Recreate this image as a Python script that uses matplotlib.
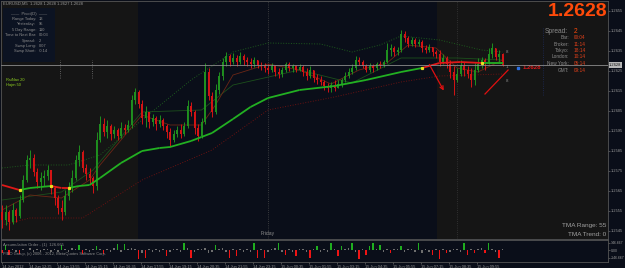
import numpy as np
import matplotlib.pyplot as plt
from matplotlib.patches import Rectangle

plt.rcParams['font.family'] = ['Liberation Sans', 'DejaVu Sans']

W, H = 625, 268

# EURUSD M5 candles (open = previous close)
first_open = 1.25545
close = [1.25505, 1.25545, 1.25495, 1.25555, 1.25525, 1.25605, 1.25705, 1.25805, 1.25815, 1.25745,
         1.25695, 1.25715, 1.25725, 1.25755, 1.25665, 1.25615, 1.25565, 1.25545, 1.25625, 1.25665,
         1.25715, 1.25805, 1.25845, 1.25765, 1.25735, 1.25715, 1.25675, 1.25905, 1.25985, 1.25945,
         1.25975, 1.25935, 1.25955, 1.25925, 1.25965, 1.25955, 1.25980, 1.26105, 1.26145, 1.26085,
         1.26015, 1.26045, 1.25995, 1.26015, 1.25985, 1.26005, 1.25975, 1.25945, 1.25905, 1.25935,
         1.25955, 1.25935, 1.25975, 1.26075, 1.26045, 1.25965, 1.25925, 1.25995, 1.26245, 1.26125,
         1.26045, 1.26155, 1.26225, 1.26295, 1.26325, 1.26295, 1.26315, 1.26295, 1.26325, 1.26305,
         1.26295, 1.26285, 1.26305, 1.26280, 1.26275, 1.26265, 1.26255, 1.26275, 1.26245, 1.26235,
         1.26255, 1.26285, 1.26265, 1.26275, 1.26255, 1.26270, 1.26245, 1.26225, 1.26255, 1.26215,
         1.26205, 1.26195, 1.26175, 1.26165, 1.26180, 1.26165, 1.26185, 1.26205, 1.26225, 1.26245,
         1.26265, 1.26305, 1.26295, 1.26275, 1.26255, 1.26275, 1.26265, 1.26285, 1.26280, 1.26295,
         1.26355, 1.26365, 1.26345, 1.26355, 1.26435, 1.26415, 1.26385, 1.26405, 1.26385, 1.26395,
         1.26365, 1.26355, 1.26370, 1.26345, 1.26335, 1.26295, 1.26315, 1.26285, 1.26245, 1.26205,
         1.26235, 1.26275, 1.26255, 1.26235, 1.26205, 1.26255, 1.26285, 1.26305, 1.26295, 1.26335,
         1.26365, 1.26320, 1.26335, 1.26280]
high = [1.25580, 1.25580, 1.25555, 1.25590, 1.25565, 1.25630, 1.25730, 1.25830, 1.25855, 1.25835,
        1.25765, 1.25745, 1.25755, 1.25780, 1.25745, 1.25675, 1.25630, 1.25605, 1.25655, 1.25695,
        1.25755, 1.25830, 1.25880, 1.25855, 1.25785, 1.25765, 1.25725, 1.25945, 1.26025, 1.26015,
        1.26005, 1.25985, 1.25975, 1.25965, 1.25995, 1.25985, 1.26005, 1.26130, 1.26165, 1.26155,
        1.26105, 1.26075, 1.26045, 1.26035, 1.26025, 1.26030, 1.26015, 1.25985, 1.25965, 1.25955,
        1.25975, 1.25985, 1.25995, 1.26105, 1.26095, 1.26055, 1.25985, 1.26015, 1.26290, 1.26265,
        1.26145, 1.26185, 1.26245, 1.26315, 1.26345, 1.26335, 1.26340, 1.26330, 1.26345, 1.26335,
        1.26320, 1.26315, 1.26320, 1.26305, 1.26295, 1.26290, 1.26285, 1.26290, 1.26275, 1.26265,
        1.26270, 1.26295, 1.26295, 1.26285, 1.26280, 1.26285, 1.26280, 1.26265, 1.26275, 1.26245,
        1.26235, 1.26225, 1.26205, 1.26190, 1.26195, 1.26205, 1.26205, 1.26215, 1.26245, 1.26265,
        1.26285, 1.26325, 1.26320, 1.26305, 1.26285, 1.26290, 1.26285, 1.26295, 1.26300, 1.26305,
        1.26390, 1.26385, 1.26375, 1.26370, 1.26455, 1.26450, 1.26425, 1.26420, 1.26415, 1.26410,
        1.26405, 1.26380, 1.26385, 1.26370, 1.26355, 1.26355, 1.26335, 1.26325, 1.26305, 1.26275,
        1.26265, 1.26305, 1.26295, 1.26275, 1.26265, 1.26290, 1.26315, 1.26320, 1.26315, 1.26365,
        1.26390, 1.26355, 1.26355, 1.26340]
low = [1.25465, 1.25480, 1.25455, 1.25485, 1.25495, 1.25515, 1.25595, 1.25695, 1.25765, 1.25725,
       1.25665, 1.25655, 1.25675, 1.25705, 1.25635, 1.25580, 1.25535, 1.25505, 1.25530, 1.25605,
       1.25645, 1.25705, 1.25775, 1.25745, 1.25705, 1.25685, 1.25640, 1.25655, 1.25895, 1.25925,
       1.25915, 1.25905, 1.25915, 1.25905, 1.25915, 1.25935, 1.25945, 1.25965, 1.26085, 1.26065,
       1.25985, 1.25970, 1.25965, 1.25975, 1.25955, 1.25970, 1.25955, 1.25915, 1.25870, 1.25895,
       1.25920, 1.25915, 1.25925, 1.25965, 1.26025, 1.25935, 1.25900, 1.25915, 1.25985, 1.26105,
       1.26020, 1.26035, 1.26135, 1.26205, 1.26275, 1.26275, 1.26285, 1.26275, 1.26285, 1.26280,
       1.26275, 1.26265, 1.26270, 1.26265, 1.26255, 1.26245, 1.26235, 1.26245, 1.26225, 1.26215,
       1.26220, 1.26245, 1.26250, 1.26245, 1.26245, 1.26250, 1.26225, 1.26205, 1.26215, 1.26195,
       1.26185, 1.26180, 1.26155, 1.26145, 1.26145, 1.26150, 1.26165, 1.26170, 1.26195, 1.26215,
       1.26235, 1.26255, 1.26280, 1.26265, 1.26245, 1.26245, 1.26245, 1.26255, 1.26265, 1.26270,
       1.26290, 1.26325, 1.26325, 1.26330, 1.26345, 1.26395, 1.26370, 1.26375, 1.26370, 1.26375,
       1.26345, 1.26340, 1.26345, 1.26325, 1.26315, 1.26275, 1.26285, 1.26265, 1.26215, 1.26130,
       1.26195, 1.26225, 1.26225, 1.26215, 1.26170, 1.26180, 1.26245, 1.26265, 1.26255, 1.26285,
       1.26315, 1.26305, 1.26295, 1.26275]

# TMA centre line (bar index, price, colour state)
ma_idx = [0, 5, 8, 11, 14, 17, 19, 22, 25, 28, 34, 40, 45, 48, 54, 57, 60, 66, 71, 76,
          85, 95, 104, 114, 120, 125, 131, 137, 143]
ma_val = [1.25680, 1.25655, 1.25665, 1.25670, 1.25675, 1.25665, 1.25665, 1.25675, 1.25680, 1.25715,
          1.25790, 1.25850, 1.25865, 1.25870, 1.25900, 1.25920, 1.25940, 1.26010, 1.26070, 1.26115,
          1.26155, 1.26175, 1.26205, 1.26245, 1.26265, 1.26290, 1.26295, 1.26290, 1.26290]
ma_trend = ['dn', 'up', 'up', 'up', 'dn', 'dn', 'up', 'up', 'up', 'up', 'up', 'up', 'up', 'up',
            'up', 'up', 'up', 'up', 'up', 'up', 'up', 'up', 'up', 'up', 'dn', 'dn', 'dn', 'up']

# TMA bands
up_idx = [0, 8, 19, 28, 40, 54, 66, 76, 91, 100, 108, 114, 125, 137, 143]
up_val = [1.25765, 1.25780, 1.25780, 1.25830, 1.26005, 1.26205, 1.26345, 1.26390, 1.26385,
          1.26345, 1.26380, 1.26425, 1.26405, 1.26355, 1.26345]
dn_idx = [0, 8, 23, 40, 60, 76, 95, 114, 125, 143]
dn_val = [1.25480, 1.25515, 1.25515, 1.25705, 1.25855, 1.26055, 1.26120, 1.26195, 1.26225, 1.26235]

# fast and medium moving averages
fast_idx = [0, 8, 17, 25, 28, 34, 40, 48, 57, 61, 66, 76, 85, 94, 102, 110, 116, 124, 130, 136, 143]
fast_val = [1.25555, 1.25630, 1.25615, 1.25705, 1.25780, 1.25905, 1.26030, 1.25980, 1.25980, 1.26080,
            1.26230, 1.26285, 1.26255, 1.26185, 1.26255, 1.26290, 1.26380, 1.26365, 1.26265, 1.26245,
            1.26305]
mid_idx = [0, 17, 26, 40, 57, 66, 85, 100, 114, 130, 143]
mid_val = [1.25605, 1.25645, 1.25755, 1.26045, 1.26055, 1.26180, 1.26255, 1.26190, 1.26315, 1.26315,
           1.26305]

# oscillator in the lower window
osc = [-52, 100, -85, 20, -25, -65, 30, 15, 40, -20, 25, -30, 35, 20, -25, 30, -20, 111, 25, -30,
       40, 30, 111, -60, 20, -25, 35, 90, 30, -65, 25, -20, 40, 130, -30, 130, 20, 45, 30, -170,
       -40, -150, 25, -20, 35, -25, 30, -117, -35, 20, 30, -25, 150, 40, -150, -30, 25, 35, 45, -40,
       -30, 111, 30, 40, -20, -150, 25, -117, 30, -20, 35, -25, 150, -150, 20, -150, -30, 25, 40, 150,
       -20, -85, 30, -25, -117, 20, 35, -30, -150, 25, 78, -20, 30, -25, 156, 20, -117, 78, 35, 40,
       156, -30, -170, 25, -85, 78, 156, 30, 111, -25, 35, -52, 20, 30, 90, -25, 20, 35, -30, 156,
       -40, 25, -20, -85, 30, -170, 20, -52, -30, 25, 35, -20, 156, -85, 30, -52, 25, 40, -45, 156,
       30, -25, -150, 20]

price_ticks = [1.2655, 1.2645, 1.2635, 1.2625, 1.2615, 1.2605, 1.2595, 1.2585, 1.2575, 1.2565,
               1.2555, 1.2545]
time_labels = ['14 Jun 2012', '14 Jun 12:35', '14 Jun 13:55', '14 Jun 15:15', '14 Jun 16:35',
               '14 Jun 17:55', '14 Jun 19:15', '14 Jun 20:35', '14 Jun 21:55', '14 Jun 23:15',
               '15 Jun 00:35', '15 Jun 01:55', '15 Jun 03:15', '15 Jun 04:35', '15 Jun 05:55',
               '15 Jun 07:15', '15 Jun 08:35', '15 Jun 09:55']
last_price = 1.2628

NAVY = '#0a0e19'
SESSION = '#151515'
GREEN = '#1f8f1f'
RED = '#d41414'
GRAY = '#9a9a9a'
ORANGE = '#ff4a0a'


def box(x0, y0, x1, y1):
    return [x0 / W, 1 - y1 / H, (x1 - x0) / W, (y1 - y0) / H]


def ftext(x, y, s, **kw):
    fig.text(x / W, 1 - y / H, s, **kw)


fig = plt.figure(figsize=(W / 100, H / 100), dpi=100, facecolor=NAVY)
ax = fig.add_axes(box(1, 1, 608, 239), facecolor=NAVY)
sub = fig.add_axes(box(1, 240, 608, 262), facecolor=NAVY)

xa, xb = (1 - 2) / 3.5, (608 - 2) / 3.5
n = len(close)
idx = np.arange(n)
op = np.array([first_open] + close[:-1])
cl = np.array(close)
hi = np.maximum(np.array(high), np.maximum(op, cl))
lo = np.minimum(np.array(low), np.minimum(op, cl))

ax.set_xlim(xa, xb)
ax.set_ylim(1.2541, 1.2660)

# session shading
ax.axvspan(xa, 38.9, color=SESSION, lw=0, zorder=0)
ax.axvspan(124.3, xb, color=SESSION, lw=0, zorder=0)
ax.add_patch(Rectangle((3 / W, 1 - 62 / H), 52 / W, 54 / H, transform=fig.transFigure,
                       facecolor='#0c1322', lw=0, zorder=0.5))

# verticals
ax.axvline(76, color='#4a4a4a', lw=0.6, ls=':', zorder=1)
ax.axvline(130, color='#3a3a3a', lw=0.6, ls=':', zorder=1)
ax.vlines([16.6, 25.7], 1.26215, 1.26305, color='#777777', lw=0.6, ls=':', zorder=1)
ax.plot([154.6, 154.6], [1.2613, 1.26465], color='#1e2c5c', lw=0.6, ls=':', zorder=1)

# bands and moving averages
ax.plot(up_idx, up_val, color='#1d5a1d', lw=0.7, ls=':', zorder=2)
ax.plot(dn_idx, dn_val, color='#6a1212', lw=0.7, ls=':', zorder=2)
ax.plot(mid_idx, mid_val, color='#1c4f1c', lw=0.6, zorder=2)
ax.plot(fast_idx, fast_val, color='#6b2616', lw=0.6, zorder=2)

# candles
cols = [GREEN if c >= o else RED for o, c in zip(op, cl)]
ax.vlines(idx, lo, hi, colors=cols, lw=0.7, zorder=3)
body = np.maximum(np.abs(cl - op), 0.00002)
ax.bar(idx, body, bottom=np.minimum(op, cl), width=0.55, color=cols, lw=0, zorder=3)

# TMA centre line with colour changes
for k in range(len(ma_idx) - 1):
    c = '#22b022' if ma_trend[k] == 'up' else '#e01818'
    ax.plot(ma_idx[k:k + 2], ma_val[k:k + 2], color=c, lw=1.3, zorder=4, solid_capstyle='butt')
for k in range(1, len(ma_idx) - 1):
    if ma_trend[k] != ma_trend[k - 1]:
        ax.plot(ma_idx[k], ma_val[k], 's', color='#e8e020', ms=1.3, zorder=5)

# current price line
ax.axhline(last_price, color='#8c8c8c', lw=0.6, zorder=4)

# hand drawn arrows
ax.annotate('', xy=(126.6, 1.26140), xytext=(121.7, 1.26295),
            arrowprops=dict(arrowstyle='->', color='#e01010', lw=0.9, mutation_scale=6), zorder=6)
ax.plot([138, 144.6], [1.26135, 1.26255], color='#e01010', lw=0.9, zorder=6)

for yv, s in [(1.26345, '8'), (1.26270, '1'), (1.26200, '8')]:
    ax.text(144.3, yv, s, color='#8a8a8a', fontsize=3.2, ha='center', va='center')
ax.plot(147.4, 1.26265, 's', color='#2a6ee0', ms=1.8)
ax.text(148.8, 1.26265, '1.2628', color='#e01818', fontsize=4.3, fontweight='bold', va='center')

# right price scale
ax.yaxis.tick_right()
ax.set_yticks(price_ticks)
ax.set_yticklabels(['%.4f' % p for p in price_ticks])
ax.tick_params(axis='y', length=1.5, width=0.5, colors='#666666', labelcolor=GRAY, labelsize=2.9, pad=0.8)
ax.set_xticks([])
for s in ax.spines.values():
    s.set_color('#555555')
    s.set_linewidth(0.6)
ax.annotate('1.2628', xy=(1.0, last_price), xycoords=('axes fraction', 'data'),
            xytext=(0.8, 0), textcoords='offset points', fontsize=2.9, color='#111111',
            va='center', ha='left', bbox=dict(boxstyle='square,pad=0.15', fc='#b8b8b8', lw=0))

# lower window
sub.set_xlim(xa, xb)
sub.set_ylim(-225, 205)
ocol = ['#1fae1f' if v > 70 else ('#f01414' if v <= -45 else '#6e6e6e') for v in osc]
sub.bar(np.arange(len(osc)), osc, width=0.45, color=ocol, lw=0)
sub.yaxis.tick_right()
sub.set_yticks([146.667, 0, -146.667])
sub.set_yticklabels(['146.667', '0.00', '-146.667'])
sub.tick_params(axis='y', length=1.5, width=0.5, colors='#666666', labelcolor=GRAY, labelsize=2.5, pad=0.5)
tpos = [0] + [7.7 + 8 * k for k in range(len(time_labels) - 1)]
sub.set_xticks(tpos)
sub.set_xticklabels(time_labels, ha='left')
sub.tick_params(axis='x', length=1.5, width=0.5, colors='#666666', labelcolor=GRAY, labelsize=2.8, pad=0.5)
for s in sub.spines.values():
    s.set_color('#555555')
    s.set_linewidth(0.6)

# texts
ftext(3, 4, 'EURUSD,M5  1.2628 1.2628 1.2627 1.2628', color=GRAY, fontsize=3.0, va='center')
ftext(29, 14, '\u2014\u2014  Pivot(D)  \u2014\u2014', color='#8c8c8c', fontsize=3.0, ha='center', va='center')
left_rows = [('Range Today:', '13'), ('Yesterday:', '95'), ('5 Day Range:', '110'),
             ('Time to Next Bar:', '00:03'), ('Spread:', '2'), ('Swap Long:', '0.07'),
             ('Swap Short:', '-0.14')]
for k, (a, b) in enumerate(left_rows):
    y = 19 + k * 5.4
    ftext(36, y, a, color='#8c8c8c', fontsize=2.9, ha='right', va='center')
    ftext(39, y, b, color='#8c8c8c', fontsize=2.9, ha='left', va='center')
ftext(6, 80, 'RsiNav 20', color='#8fd020', fontsize=2.9, va='center')
ftext(6, 85, 'Hajm 50', color='#8fd020', fontsize=2.9, va='center')

ftext(607, 12, '1.2628', color=ORANGE, fontsize=14, fontweight='bold', ha='right', va='center')
ftext(568, 31, 'Spread:', color='#8c8c8c', fontsize=4.8, ha='right', va='center')
ftext(574, 31, '2', color=ORANGE, fontsize=4.8, ha='left', va='center')
right_rows = [('Bar:', '00:04'), ('Broker:', '11:14'), ('Tokyo:', '18:14'), ('London:', '10:14'),
              ('New York:', '05:14'), ('GMT:', '09:14')]
for k, (a, b) in enumerate(right_rows):
    y = 37.5 + k * 6.5
    ftext(569, y, a, color='#8c8c8c', fontsize=3.4, ha='right', va='center')
    ftext(574, y, b, color='#e0401a', fontsize=3.4, ha='left', va='center')

ftext(606, 226, 'TMA Range: 55', color='#a0a0a0', fontsize=4.6, ha='right', va='center')
ftext(606, 234, 'TMA Trend: 0', color='#a0a0a0', fontsize=4.6, ha='right', va='center')
ftext(268, 234, 'Friday', color='#8c8c8c', fontsize=3.6, ha='center', va='center')

ftext(3, 245, 'Accumulation Order - (1)  126.665', color='#8c8c8c', fontsize=2.9, va='center')
ftext(3, 254, 'FIBO Group, (c) 2006 - 2012, MetaQuotes Software Corp.', color='#8c8c8c',
      fontsize=2.9, va='center')

fig.savefig('out.png', dpi=100, facecolor=NAVY)
